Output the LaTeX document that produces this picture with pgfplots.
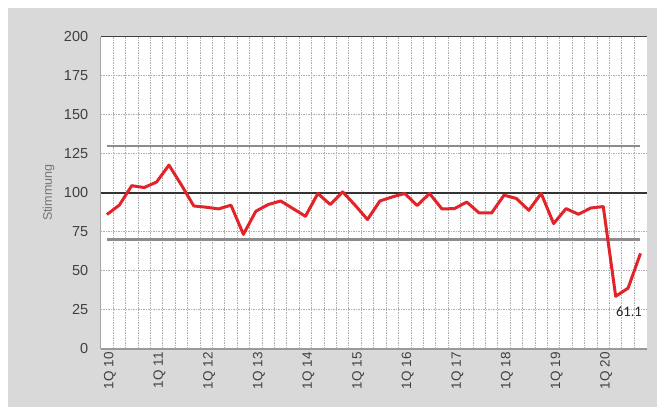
\documentclass[border=0pt]{standalone}
\usepackage{fontspec}
\setmainfont{Liberation Sans}
\newfontfamily\calibri{Carlito}
\usepackage{pgfplots}
\pgfplotsset{compat=1.18}
\definecolor{panelgray}{RGB}{217,217,217}
\definecolor{linered}{RGB}{226,35,42}
\definecolor{bandgray}{RGB}{140,140,140}
\definecolor{ticktext}{RGB}{64,64,64}
\definecolor{labeltext}{RGB}{118,118,118}
\definecolor{gridgray}{RGB}{175,175,175}

\begin{document}
\begin{tikzpicture}
\useasboundingbox (0,0) rectangle (657pt,407pt);
\fill[white] (0,0) rectangle (657pt,407pt);
\fill[panelgray] (8pt,0) rectangle (657pt,399pt);
\begin{axis}[
    at={(100.7pt,58.3pt)}, anchor=south west,
    scale only axis,
    width=546pt, height=312pt,
    xmin=-0.5, xmax=43.5,
    ymin=0, ymax=200,
    axis background/.style={fill=white},
    axis line style={draw=none},
    xtick={0,4,...,40},
    xticklabels={1Q 10,1Q 11,1Q 12,1Q 13,1Q 14,1Q 15,1Q 16,1Q 17,1Q 18,1Q 19,1Q 20},
    minor xtick={0.5,1.5,...,42.5},
    ytick={0,25,...,200},
    major tick length=0pt, minor tick length=0pt,
    xminorgrids=true, ymajorgrids=true,
    minor grid style={draw=gridgray, line width=0.8pt, dash pattern=on 1.5pt off 1pt},
    major grid style={draw=gridgray, line width=0.8pt, dash pattern=on 1.5pt off 1pt},
    /pgf/number format/assume math mode=true,
    yticklabel style={font=\fontsize{14.5}{15}\selectfont, text=ticktext, xshift=-9pt},
    xticklabel style={font=\fontsize{13.5}{14}\selectfont, text=ticktext, rotate=90, anchor=east, yshift=-3pt},
    ylabel={Stimmung},
    ylabel style={at={(axis description cs:0,0.5)}, anchor=center, yshift=52pt,
        font=\fontsize{12.5}{14}\selectfont, text=labeltext},
    clip=false,
]
% band lines
\addplot[bandgray, line width=2.5pt, forget plot] coordinates {(0,130)(43,130)};
\addplot[bandgray, line width=2.5pt, forget plot] coordinates {(0,70)(43,70)};
\addplot[black!80, line width=2pt, forget plot] coordinates {(-0.5,100)(43.5,100)};
% frame
\draw[black!75, line width=1.5pt] (rel axis cs:0,1) -- (rel axis cs:1,1);
\draw[gray!70, line width=1.2pt] (rel axis cs:0,0) -- (rel axis cs:0,1);
\draw[gray!80, line width=1.8pt] (rel axis cs:0,0) -- (rel axis cs:1,0);
% sentiment index
\addplot[linered, line width=3pt, line join=round] coordinates {
(0,86)(1,92)(2,104.5)(3,103.3)(4,106.8)(5,117.7)(6,105)(7,91.5)(8,90.7)(9,89.6)
(10,92)(11,73.3)(12,88.1)(13,92.4)(14,94.7)(15,89.8)(16,84.9)(17,99.5)(18,92.4)(19,100.5)
(20,92)(21,82.8)(22,94.7)(23,97.3)(24,99.5)(25,91.8)(26,99.5)(27,89.6)(28,89.8)(29,94)
(30,87)(31,87)(32,98.4)(33,96.3)(34,88.7)(35,99.5)(36,80.2)(37,89.8)(38,86.2)(39,90.2)
(40,91.1)(41,33.6)(42,38.8)(43,61.1)};
\node[font=\calibri\fontsize{14.5}{15}\selectfont, text=black!85] at (axis cs:42.07,24) {61.1};
\end{axis}
\end{tikzpicture}
\end{document}
